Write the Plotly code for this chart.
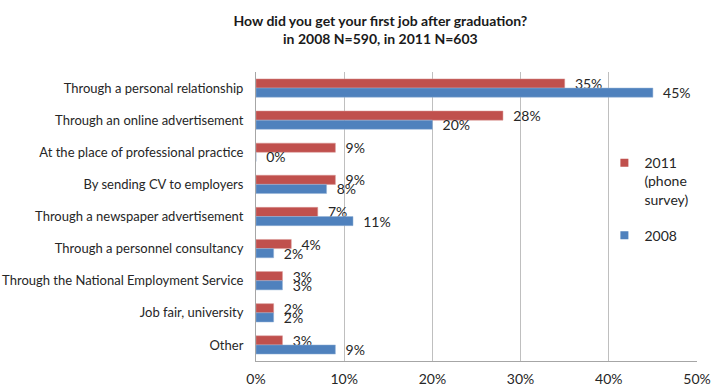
import plotly.graph_objects as go

categories = [
    "Through a personal relationship",
    "Through an online advertisement",
    "At the place of professional practice",
    "By sending CV to employers",
    "Through a newspaper advertisement",
    "Through a personnel consultancy",
    "Through the National Employment Service",
    "Job fair, university",
    "Other",
]
values_2011 = [35, 28, 9, 9, 7, 4, 3, 2, 3]
values_2008 = [45, 20, 0, 8, 11, 2, 3, 2, 9]
tick_vals = [0, 10, 20, 30, 40, 50]
tick_text = ["0%", "10%", "20%", "30%", "40%", "50%"]

FONT = "Lato"
TXT = "#262626"
NB = "\u00a0"
RED = "#C0504D"
BLUE = "#4F81BD"

fig = go.Figure()
for vals, name, color, lcolor in [
    (values_2011, "2011<br>(phone<br>survey)", RED, "#D99694"),
    (values_2008, "2008", BLUE, "#95B3D7"),
]:
    fig.add_trace(go.Bar(
        y=categories, x=vals, orientation="h",
        name=name, showlegend=False,
        marker=dict(color=color, line=dict(color=lcolor, width=0.5)),
        text=[NB + NB + f"{v}%" for v in vals],
        texttemplate="%{text}", textposition="outside",
        constraintext="none", cliponaxis=False,
        textfont=dict(family=FONT, size=14, color=TXT),
        hoverinfo="skip",
    ))
# legend entries with small square markers
for name, color, grp in [("2011<br>(phone<br>survey)", RED, "a"), ("2008", BLUE, "b")]:
    fig.add_trace(go.Scatter(
        x=[None], y=[None], mode="markers", name=name, legendgroup=grp,
        marker=dict(symbol="square", size=8, color=color),
    ))

fig.update_layout(
    width=711, height=389,
    margin=dict(l=256, r=14, t=72, b=28, autoexpand=False),
    paper_bgcolor="white", plot_bgcolor="white",
    barmode="group", bargap=0.43, bargroupgap=0,
    font=dict(family=FONT, size=13, color=TXT),
    title=dict(
        text="<b>How did you get your first job after graduation?<br>in 2008 N=590, in 2011 N=603</b>",
        x=0.535, xanchor="center", y=1 - 26 / 389, yanchor="middle",
        font=dict(family=FONT, size=14, color="#1a1a1a"),
    ),
    xaxis=dict(
        range=[0, 50], tickvals=tick_vals, ticktext=tick_text,
        showgrid=True, gridcolor="#BFBFBF", gridwidth=1,
        showline=True, linecolor="#A6A6A6", linewidth=1,
        zeroline=False, ticks="", ticklabelstandoff=5,
        tickfont=dict(family=FONT, size=14, color=TXT),
        fixedrange=True, automargin=False,
    ),
    yaxis=dict(
        autorange="reversed", showline=True, linecolor="#A6A6A6",
        linewidth=1, ticks="", showgrid=False,
        tickfont=dict(family=FONT, size=13, color=TXT),
        ticklabelstandoff=9, automargin=False,
    ),
    legend=dict(
        x=0.79, xanchor="left", y=0.74, yanchor="top",
        traceorder="grouped", tracegroupgap=15, valign="top",
        bgcolor="rgba(0,0,0,0)",
        font=dict(family=FONT, size=14, color=TXT),
        itemwidth=30,
    ),
)

fig.write_html("out.html")
